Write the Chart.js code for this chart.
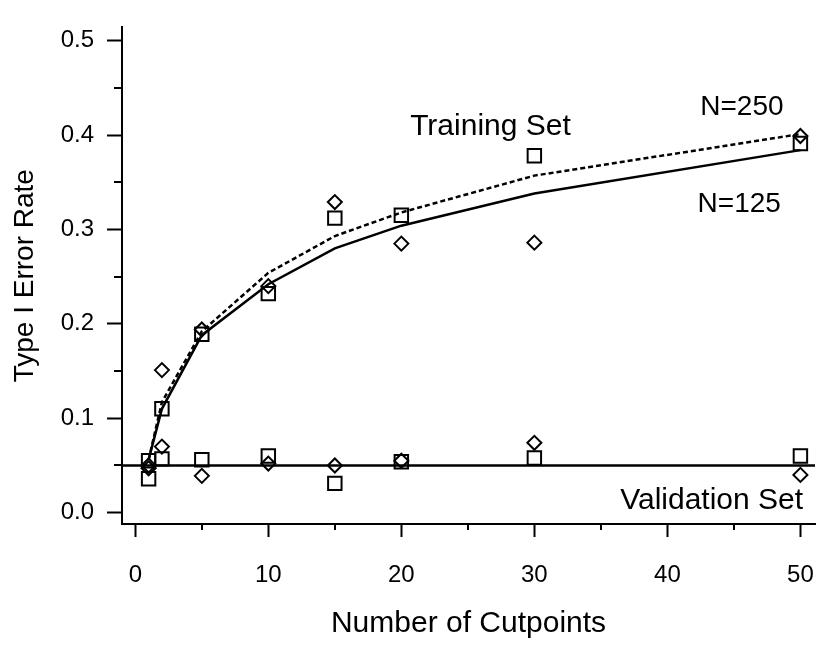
<!DOCTYPE html>
<html>
<head>
<meta charset="utf-8">
<title>Type I Error Rate vs Number of Cutpoints</title>
<script src="https://cdn.jsdelivr.net/npm/chart.js@4.4.0/dist/chart.umd.min.js"></script>
<style>
  html, body { margin: 0; padding: 0; background: #fff; }
  #wrap { width: 838px; height: 649px; position: relative; }
</style>
</head>
<body>
<div id="wrap"><canvas id="chart"></canvas></div>
<script>
// x values: number of cutpoints
const cutpoints = [1, 2, 5, 10, 15, 20, 30, 50];

// observed type I error rates (squares / diamonds)
const trainSquares = [0.055, 0.110, 0.189, 0.232, 0.312, 0.315, 0.378, 0.391];
const trainDiamonds = [0.050, 0.151, 0.194, 0.240, 0.329, 0.285, 0.286, 0.399];
const validSquares = [0.036, 0.057, 0.056, 0.060, 0.031, 0.054, 0.058, 0.060];
const validDiamonds = [0.047, 0.070, 0.039, 0.052, 0.050, 0.055, 0.074, 0.040];

// fitted training curves
const fitN125 = [0.056, 0.110, 0.188, 0.242, 0.280, 0.304, 0.338, 0.384];
const fitN250 = [0.056, 0.117, 0.192, 0.254, 0.293, 0.318, 0.357, 0.401];

// nominal level for the validation set
const nominalAlpha = 0.05;

// axis ticks
const xMajorTicks = [0, 10, 20, 30, 40, 50];
const xMinorTicks = [5, 15, 25, 35, 45];
const yMajorTicks = [0.0, 0.1, 0.2, 0.3, 0.4, 0.5];
const yMinorTicks = [0.05, 0.15, 0.25, 0.35, 0.45];

const X_MIN = -1.0, X_MAX = 51.1;
const Y_MIN = -0.012, Y_MAX = 0.514;

const FONT = "'Liberation Sans', Arial, Helvetica, sans-serif";

const pairs = ys => cutpoints.map((x, i) => ({ x: x, y: ys[i] }));

// short minor tick marks plus the text notes on the plot
const extrasPlugin = {
    id: 'extras',
    afterDraw(chart) {
        const ctx = chart.ctx;
        const xs = chart.scales.x, ys = chart.scales.y;
        const area = chart.chartArea;
        ctx.save();
        ctx.strokeStyle = '#000';
        ctx.lineWidth = 2;
        ctx.beginPath();
        yMinorTicks.forEach(v => {
            const py = Math.round(ys.getPixelForValue(v));
            ctx.moveTo(area.left - 8, py);
            ctx.lineTo(area.left, py);
        });
        xMinorTicks.forEach(v => {
            const px = Math.round(xs.getPixelForValue(v));
            ctx.moveTo(px, area.bottom);
            ctx.lineTo(px, area.bottom + 6);
        });
        ctx.stroke();

        ctx.fillStyle = '#000';
        ctx.textBaseline = 'middle';
        ctx.font = '30px ' + FONT;
        ctx.textAlign = 'center';
        ctx.fillText('Training Set', xs.getPixelForValue(26.7), ys.getPixelForValue(0.409));
        ctx.textAlign = 'right';
        ctx.fillText('Validation Set', xs.getPixelForValue(50.2), ys.getPixelForValue(0.013));
        ctx.font = '28px ' + FONT;
        ctx.textAlign = 'center';
        ctx.fillText('N=250', xs.getPixelForValue(45.6), ys.getPixelForValue(0.429));
        ctx.fillText('N=125', xs.getPixelForValue(45.4), ys.getPixelForValue(0.327));
        ctx.restore();
    }
};

function markerSet(data, style, radius) {
    return {
        data: pairs(data),
        showLine: false,
        pointStyle: style,
        pointRadius: radius,
        pointHoverRadius: radius,
        pointBorderWidth: 2,
        pointBorderColor: '#000',
        pointBackgroundColor: 'rgba(0,0,0,0)'
    };
}

function lineSet(data, dash) {
    return {
        data: data,
        showLine: true,
        borderColor: '#000',
        borderWidth: 2.5,
        borderDash: dash,
        pointRadius: 0,
        tension: 0,
        fill: false
    };
}

new Chart(document.getElementById('chart'), {
    type: 'scatter',
    data: {
        datasets: [
            lineSet(pairs(fitN125), []),
            lineSet(pairs(fitN250), [5, 3]),
            lineSet([{ x: X_MIN, y: nominalAlpha }, { x: X_MAX, y: nominalAlpha }], []),
            markerSet(trainSquares, 'rect', 9.5),
            markerSet(trainDiamonds, 'rectRot', 7),
            markerSet(validSquares, 'rect', 9.5),
            markerSet(validDiamonds, 'rectRot', 7)
        ]
    },
    options: {
        responsive: true,
        maintainAspectRatio: false,
        animation: false,
        devicePixelRatio: 1,
        layout: { padding: { top: 9, right: 2, left: 0, bottom: 0 } },
        plugins: {
            legend: { display: false },
            tooltip: { enabled: false }
        },
        scales: {
            x: {
                type: 'linear',
                min: X_MIN,
                max: X_MAX,
                afterBuildTicks: s => { s.ticks = xMajorTicks.map(v => ({ value: v })); },
                afterFit: s => { s.height = 125; },
                border: { display: true, color: '#000', width: 2 },
                grid: { drawOnChartArea: false, drawTicks: true, tickLength: 13, tickWidth: 2, tickColor: '#000' },
                ticks: {
                    color: '#000',
                    padding: 24,
                    maxRotation: 0,
                    font: { family: FONT, size: 24 },
                    callback: v => String(v)
                },
                title: {
                    display: true,
                    text: 'Number of Cutpoints',
                    color: '#000',
                    font: { family: FONT, size: 30 },
                    padding: { top: 0, bottom: 7 }
                }
            },
            y: {
                type: 'linear',
                min: Y_MIN,
                max: Y_MAX,
                afterBuildTicks: s => { s.ticks = yMajorTicks.map(v => ({ value: v })); },
                afterFit: s => { s.width = 122; },
                border: { display: true, color: '#000', width: 2 },
                grid: { drawOnChartArea: false, drawTicks: true, tickLength: 15, tickWidth: 2, tickColor: '#000' },
                ticks: {
                    color: '#000',
                    padding: 13,
                    font: { family: FONT, size: 24 },
                    callback: v => v.toFixed(1)
                },
                title: {
                    display: true,
                    text: 'Type I Error Rate',
                    color: '#000',
                    font: { family: FONT, size: 28 },
                    padding: { top: 8, bottom: 0 }
                }
            }
        }
    },
    plugins: [extrasPlugin]
});
</script>
</body>
</html>
